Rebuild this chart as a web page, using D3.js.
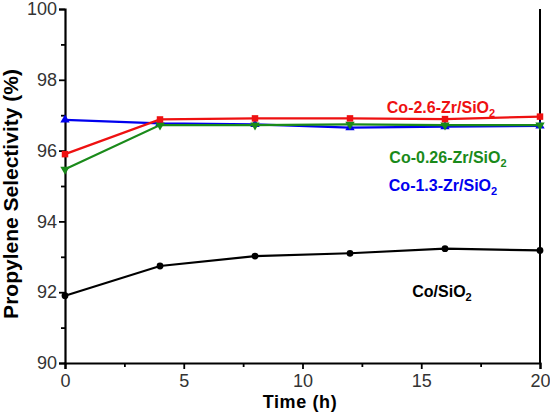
<!DOCTYPE html>
<html><head><meta charset="utf-8">
<script src="https://cdn.jsdelivr.net/npm/d3@7"></script>
<style>body{margin:0;background:#fff}svg{display:block}text{font-family:"Liberation Sans",Arial,sans-serif}</style>
</head><body><svg id="c" width="550" height="412"></svg>
<script>
const times = [0, 4, 8, 12, 16, 20];
const coSiO2 = [91.9, 92.74, 93.02, 93.1, 93.23, 93.18];
const co26 = [95.9, 96.88, 96.91, 96.91, 96.89, 96.96];
const co026 = [95.47, 96.72, 96.72, 96.74, 96.72, 96.72];
const co13 = [96.87, 96.77, 96.74, 96.65, 96.68, 96.70];
const xTicks = [0, 5, 10, 15, 20];
const yTicks = [90, 92, 94, 96, 98, 100];
const series = [
  {name: "Co/SiO2", base: "Co/SiO", values: coSiO2, color: "#000000", sym: d3.symbolCircle, lx: 442, ly: 297},
  {name: "Co-1.3-Zr/SiO2", base: "Co-1.3-Zr/SiO", values: co13, color: "#0000ee", sym: d3.symbolTriangle, lx: 443, ly: 191},
  {name: "Co-0.26-Zr/SiO2", base: "Co-0.26-Zr/SiO", values: co026, color: "#1a8a1a", sym: "down", lx: 448, ly: 163},
  {name: "Co-2.6-Zr/SiO2", base: "Co-2.6-Zr/SiO", values: co26, color: "#ee1111", sym: d3.symbolSquare, lx: 441, ly: 113}
];
const svg = d3.select("#c");
const x = d3.scaleLinear().domain([0, 20]).range([65, 540]);
const y = d3.scaleLinear().domain([90, 100]).range([363, 9]);

// axes
svg.append("g").attr("transform", `translate(0,${y(90)})`)
  .call(d3.axisBottom(x).tickValues(xTicks).tickSize(6).tickPadding(5));
svg.append("g").attr("transform", `translate(0,${y(90)})`)
  .call(d3.axisBottom(x).tickValues([2.5, 7.5, 12.5, 17.5]).tickSize(4).tickFormat(""))
  .call(g => g.select(".domain").remove());
svg.append("g").attr("transform", `translate(${x(0)},0)`)
  .call(d3.axisLeft(y).tickValues(yTicks).tickSize(6).tickPadding(2));
svg.append("g").attr("transform", `translate(${x(0)},0)`)
  .call(d3.axisLeft(y).tickValues([91, 93, 95, 97, 99]).tickSize(4).tickFormat(""))
  .call(g => g.select(".domain").remove());
svg.append("line").attr("x1", x(20)).attr("x2", x(20)).attr("y1", y(100)).attr("y2", y(90))
  .attr("stroke", "#000").attr("stroke-width", 2);
svg.selectAll(".domain").attr("stroke", "#000").attr("stroke-width", 2.2);
svg.selectAll(".tick line").attr("stroke", "#000").attr("stroke-width", 1.8);
svg.selectAll(".tick text").attr("font-size", 18).attr("fill", "#333")
  .style("font-family", "'Liberation Sans', Arial, sans-serif");

// lines
const line = d3.line().x((d, i) => x(times[i])).y(d => y(d));
series.forEach(s => {
  svg.append("path").datum(s.values).attr("d", line).attr("fill", "none")
    .attr("stroke", s.color).attr("stroke-width", 2.2);
  const sym = s.sym === "down" ? d3.symbolTriangle : s.sym;
  const size = s.sym === d3.symbolCircle ? 36 : (s.sym === d3.symbolSquare ? 42 : 38);
  svg.selectAll(null).data(s.values).join("path")
    .attr("d", d3.symbol().type(sym).size(size))
    .attr("transform", (d, i) => `translate(${x(times[i])},${y(d)})` + (s.sym === "down" ? " rotate(180)" : ""))
    .attr("fill", s.color);
  const t = svg.append("text").attr("x", s.lx).attr("y", s.ly).attr("text-anchor", "middle")
    .attr("font-size", 16).attr("font-weight", "bold").attr("fill", s.color);
  t.append("tspan").text(s.base);
  t.append("tspan").text("2").attr("font-size", 11).attr("dy", 4);
});

// axis titles
svg.append("text").attr("x", 300).attr("y", 408).attr("text-anchor", "middle")
  .attr("font-size", 18).attr("font-weight", "bold").attr("letter-spacing", 0.6).text("Time (h)");
svg.append("text").attr("transform", "translate(18,194) rotate(-90)").attr("text-anchor", "middle")
  .attr("font-size", 21).attr("font-weight", "bold").text("Propylene Selectivity (%)");
</script></body></html>
